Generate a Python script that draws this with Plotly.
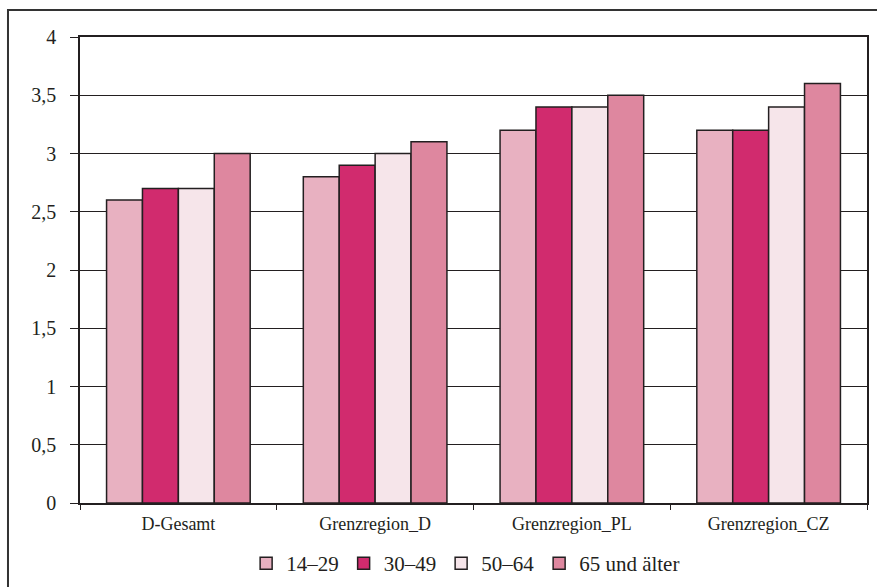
import plotly.graph_objects as go

categories = ["D-Gesamt", "Grenzregion_D", "Grenzregion_PL", "Grenzregion_CZ"]
series_names = ["14–29", "30–49", "50–64", "65 und älter"]
values_14_29 = [2.6, 2.8, 3.2, 3.2]
values_30_49 = [2.7, 2.9, 3.4, 3.2]
values_50_64 = [2.7, 3.0, 3.4, 3.4]
values_65 = [3.0, 3.1, 3.5, 3.6]
y_ticks = [0, 0.5, 1, 1.5, 2, 2.5, 3, 3.5, 4]
y_tick_text = ["0", "0,5", "1", "1,5", "2", "2,5", "3", "3,5", "4"]

colors = ["#E8B1C1", "#D12B6E", "#F6E5EA", "#DE879F"]
series = [values_14_29, values_30_49, values_50_64, values_65]

font_family = "Liberation Serif, DejaVu Serif, serif"

fig = go.Figure()
for name, vals, col in zip(series_names, series, colors):
    fig.add_trace(go.Bar(
        x=categories, y=vals, name=name,
        marker=dict(color=col, line=dict(color="#231F20", width=1.5)),
    ))

fig.update_layout(
    width=877, height=587,
    barmode="group", bargap=0.27, bargroupgap=0,
    plot_bgcolor="white", paper_bgcolor="white",
    margin=dict(l=80, r=10, t=37, b=84, autoexpand=False),
    font=dict(family=font_family, size=18, color="#231F20"),
    showlegend=True,
    legend=dict(orientation="h", x=0.49, xanchor="center",
                yref="container", y=0.04, yanchor="middle",
                font=dict(size=21), itemwidth=30, tracegroupgap=0,
                bgcolor="rgba(0,0,0,0)"),
)

fig.update_yaxes(
    range=[0, 4], tickvals=y_ticks, ticktext=y_tick_text,
    tickfont=dict(size=20),
    showgrid=True, gridcolor="#231F20", gridwidth=1.3,
    showline=True, linecolor="#231F20", linewidth=1.5, mirror=True,
    ticks="outside", ticklen=8, tickcolor="#231F20", ticklabelstandoff=10,
    zeroline=False,
)
fig.update_xaxes(
    showline=True, linecolor="#231F20", linewidth=1.5, mirror=True,
    ticks="outside", tickson="boundaries", ticklen=5, tickcolor="#231F20",
    ticklabelstandoff=4,
)

# outer frame around the whole chart
fig.add_shape(type="rect", xref="paper", yref="paper",
              x0=-0.0915, x1=1.02, y0=-0.19, y1=1.058,
              line=dict(color="#333333", width=2), fillcolor="rgba(0,0,0,0)",
              layer="below")

fig.write_html("out.html", config={"displayModeBar": False},
               post_script="document.body.style.margin='0';")
